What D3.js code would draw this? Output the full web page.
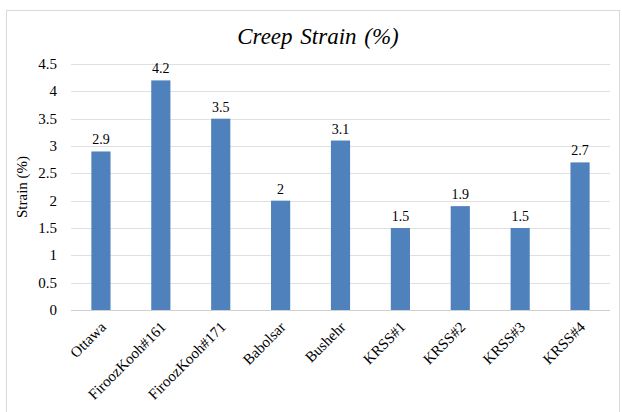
<!DOCTYPE html>
<html>
<head>
<meta charset="utf-8">
<script src="https://d3js.org/d3.v7.min.js"></script>
<style>
  body { margin: 0; background: #fff; }
</style>
</head>
<body>
<svg id="chart" width="622" height="412" font-family="Liberation Serif">
  <text x="318" y="44" text-anchor="middle" font-family="Liberation Serif" font-size="23" font-style="italic" word-spacing="2">Creep Strain (%)</text>
</svg>
<script>
// data
const sites = ["Ottawa", "FiroozKooh#161", "FiroozKooh#171", "Babolsar", "Bushehr", "KRSS#1", "KRSS#2", "KRSS#3", "KRSS#4"];
const strain = [2.9, 4.2, 3.5, 2, 3.1, 1.5, 1.9, 1.5, 2.7];
const yTicks = [0, 0.5, 1, 1.5, 2, 2.5, 3, 3.5, 4, 4.5];

const plotLeft = 71, plotRight = 610, plotTop = 64, plotBottom = 310;
const serif = "Liberation Serif";

const svg = d3.select("#chart");

// outer frame
svg.insert("rect", ":first-child")
  .attr("x", 6.5).attr("y", 10.5)
  .attr("width", 613).attr("height", 420)
  .attr("fill", "none").attr("stroke", "#d9d9d9");

const x = d3.scaleBand().domain(sites).range([plotLeft, plotRight]).paddingInner(0.68).paddingOuter(0.34);
const y = d3.scaleLinear().domain([0, 4.5]).range([plotBottom, plotTop]);

// gridlines
svg.append("g").selectAll("line")
  .data(yTicks)
  .enter().append("line")
  .attr("x1", plotLeft).attr("x2", plotRight)
  .attr("y1", d => Math.round(y(d)) + 0.5).attr("y2", d => Math.round(y(d)) + 0.5)
  .attr("stroke", d => d === 0 ? "#d0d0d0" : "#e0e0e0");

// y tick labels
svg.append("g").selectAll("text")
  .data(yTicks)
  .enter().append("text")
  .attr("x", 57).attr("y", d => y(d) + 5)
  .attr("text-anchor", "end")
  .attr("font-family", serif)
  .attr("font-size", 15)
  .text(d => d);

// bars
svg.append("g").selectAll("rect")
  .data(strain)
  .enter().append("rect")
  .attr("x", (d, i) => x(sites[i]))
  .attr("y", d => y(d))
  .attr("width", x.bandwidth())
  .attr("height", d => y(0) - y(d))
  .attr("fill", "#4f81bd");

// value labels
svg.append("g").selectAll("text")
  .data(strain)
  .enter().append("text")
  .attr("x", (d, i) => x(sites[i]) + x.bandwidth() / 2)
  .attr("y", d => y(d) - 7)
  .attr("text-anchor", "middle")
  .attr("font-family", serif)
  .attr("font-size", 14)
  .text(d => d);

// x labels, rotated
svg.append("g").selectAll("text")
  .data(sites)
  .enter().append("text")
  .attr("transform", d => `translate(${x(d) + x.bandwidth() / 2 + 6},${plotBottom + 18}) rotate(-45)`)
  .attr("text-anchor", "end")
  .attr("font-family", serif)
  .attr("font-size", 15)
  .text(d => d);

// axis title
svg.append("text")
  .attr("transform", `translate(27,${(plotTop + plotBottom) / 2}) rotate(-90)`)
  .attr("text-anchor", "middle")
  .attr("font-family", serif)
  .attr("font-size", 15)
  .text("Strain (%)");
</script>
</body>
</html>
